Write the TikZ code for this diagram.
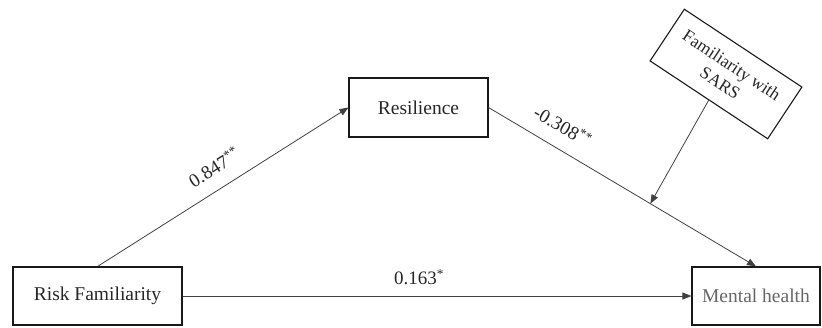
\documentclass[tikz,border=0pt]{standalone}
\usepackage{fontspec}
\setmainfont{Liberation Serif}
\usetikzlibrary{arrows.meta,calc}
\begin{document}
\begin{tikzpicture}[x=1pt,y=-1pt,
  varbox/.style={draw=black!90,line width=1.1pt,inner sep=0pt,font=\fontsize{19.5}{22}\selectfont,text=black!85},
  conn/.style={draw=black!75,line width=0.8pt,-{Triangle[length=9pt,width=7pt]}},
  coef/.style={font=\fontsize{19}{22}\selectfont,text=black!85,inner sep=0pt}]
\useasboundingbox (0,0) rectangle (822,327);
\node[varbox,minimum width=169pt,minimum height=58pt] (risk) at (97.5,296) {Risk Familiarity};
\node[varbox,minimum width=139pt,minimum height=59pt] (res) at (418.5,107.5) {Resilience};
\node[varbox,minimum width=128pt,minimum height=58pt,text=black!60] (mh) at (756,296) {Mental health};
\node[varbox,minimum width=141pt,minimum height=62pt,rotate=-33.5,align=center,font=\fontsize{17.5}{21}\selectfont] (sars) at (726,74) {Familiarity with\\SARS};
\draw[conn] (risk.north) -- (res.west);
\draw[conn] (risk.east) -- (mh.west);
\draw[conn] (res.east) -- (mh.north);
\coordinate (mod) at ($(res.east)!0.605!(mh.north)$);
\draw[conn] (sars.south) -- (mod);
\node[coef,rotate=32] (c1) at (214,167) {0.847\textsuperscript{**}};
\node[coef,rotate=-30] (c2) at (563,126) {-0.308\textsuperscript{**}};
\node[coef] (c3) at (419,277) {0.163\textsuperscript{*}};
\end{tikzpicture}
\end{document}
